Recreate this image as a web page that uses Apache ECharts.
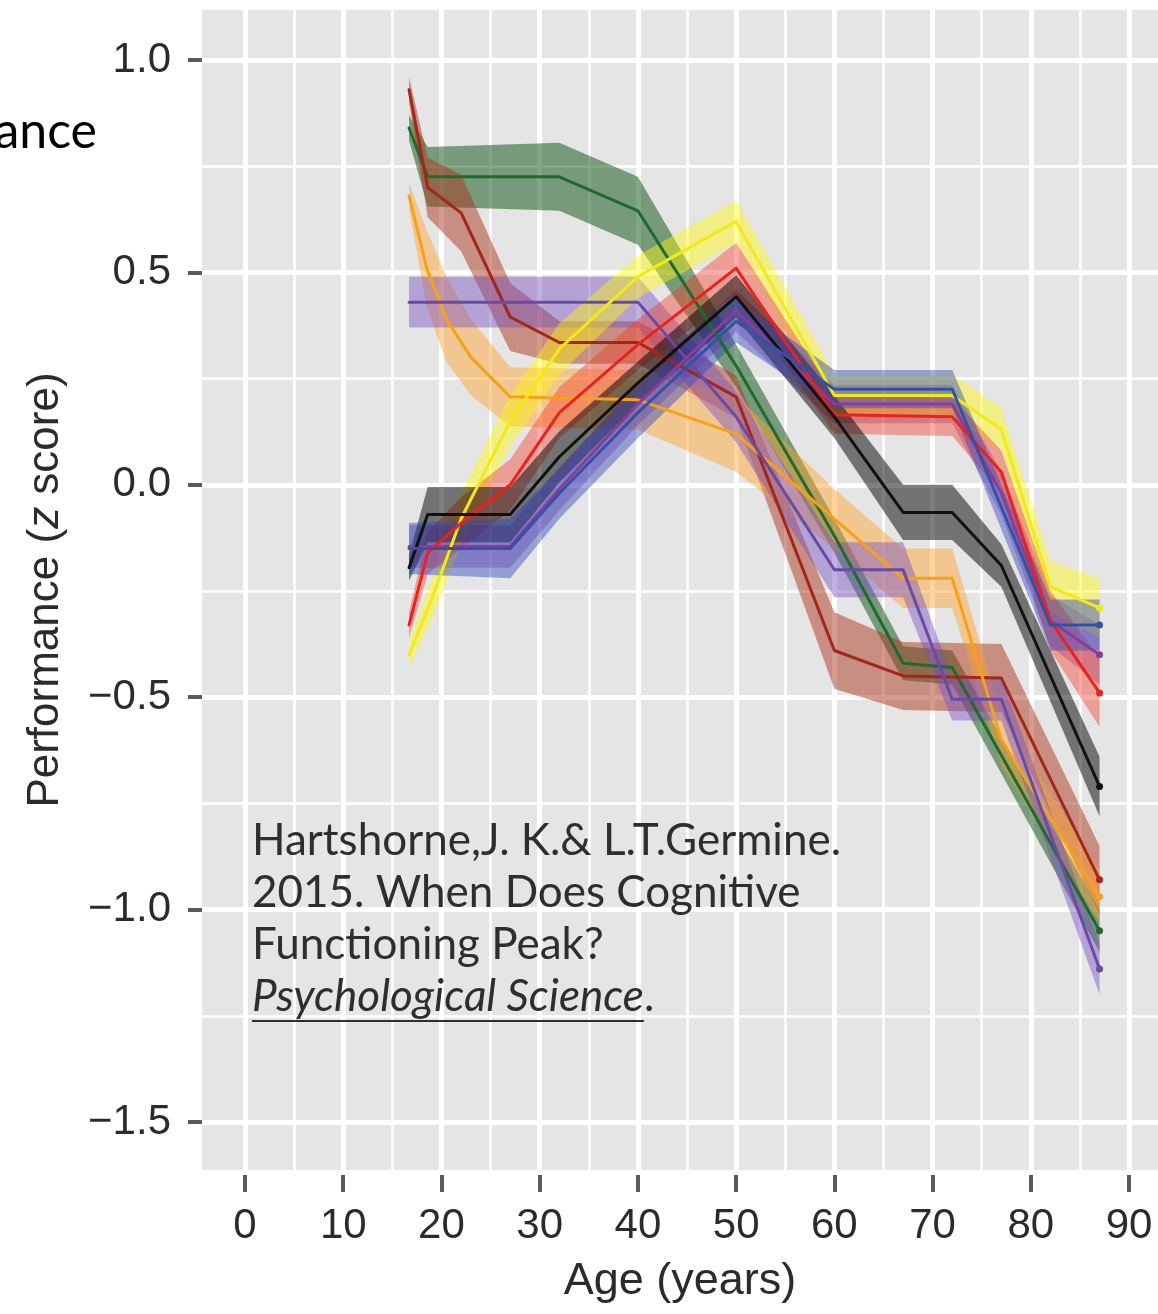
<!DOCTYPE html>
<html>
<head>
<meta charset="utf-8">
<script src="https://cdn.jsdelivr.net/npm/echarts@6/dist/echarts.min.js"></script>
<style>
  html, body { margin: 0; padding: 0; background: #ffffff; }
  #chart { width: 1158px; height: 1314px; }
</style>
</head>
<body>
<div id="chart"></div>
<script>
// Age knots (years), mean performance (z score) and half-width of the
// shaded confidence band for each cognitive measure.
const greenAge  = [16.7, 18.6, 32, 40, 50, 60, 67, 72, 87];
const greenMean = [0.84, 0.725, 0.725, 0.645, 0.28, -0.12, -0.42, -0.43, -1.05];
const greenBand = [0.03, 0.07, 0.08, 0.08, 0.05, 0.04, 0.04, 0.04, 0.05];

const darkRedAge  = [16.7, 18.6, 22, 27, 32, 40, 50, 60, 67, 77, 87];
const darkRedMean = [0.93, 0.70, 0.64, 0.395, 0.335, 0.335, 0.207, -0.39, -0.45, -0.455, -0.93];
const darkRedBand = [0.03, 0.07, 0.09, 0.08, 0.05, 0.05, 0.05, 0.09, 0.08, 0.08, 0.08];

const orangeAge  = [16.7, 18.5, 20.5, 23, 27, 40, 50, 60, 67, 72, 77, 87];
const orangeMean = [0.68, 0.51, 0.39, 0.30, 0.207, 0.20, 0.12, -0.08, -0.22, -0.22, -0.60, -0.97];
const orangeBand = [0.03, 0.09, 0.10, 0.09, 0.07, 0.07, 0.09, 0.07, 0.07, 0.07, 0.06, 0.06];

const violetAge  = [16.7, 40, 50, 60, 67, 72, 77, 87];
const violetMean = [0.43, 0.43, 0.16, -0.20, -0.20, -0.505, -0.505, -1.14];
const violetBand = [0.06, 0.06, 0.06, 0.065, 0.065, 0.05, 0.05, 0.06];

const magentaAge  = [16.7, 27, 32, 40, 50, 60, 72, 77, 82, 87];
const magentaMean = [-0.145, -0.145, -0.01, 0.19, 0.41, 0.19, 0.19, -0.02, -0.32, -0.40];
const magentaBand = [0.05, 0.05, 0.05, 0.05, 0.05, 0.045, 0.045, 0.05, 0.06, 0.07];

const yellowAge  = [16.7, 19, 22, 27, 32, 40, 50, 60, 72, 77, 82, 87];
const yellowMean = [-0.40, -0.27, -0.08, 0.15, 0.32, 0.49, 0.62, 0.21, 0.21, 0.13, -0.24, -0.29];
const yellowBand = [0.03, 0.05, 0.06, 0.06, 0.06, 0.05, 0.05, 0.05, 0.05, 0.05, 0.06, 0.07];

const redAge  = [16.7, 18.6, 22, 27, 32, 40, 50, 60, 72, 77, 82, 87];
const redMean = [-0.33, -0.16, -0.09, 0.0, 0.17, 0.33, 0.51, 0.165, 0.16, 0.03, -0.32, -0.49];
const redBand = [0.03, 0.05, 0.06, 0.06, 0.06, 0.06, 0.06, 0.045, 0.045, 0.05, 0.07, 0.08];

const blackAge  = [16.7, 18.6, 27, 32, 40, 50, 60, 67, 72, 77, 87];
const blackMean = [-0.195, -0.07, -0.07, 0.066, 0.24, 0.443, 0.16, -0.065, -0.065, -0.19, -0.71];
const blackBand = [0.03, 0.065, 0.065, 0.06, 0.05, 0.05, 0.05, 0.065, 0.065, 0.05, 0.07];

const blueAge  = [16.7, 27, 32, 40, 50, 60, 72, 82, 87];
const blueMean = [-0.15, -0.15, -0.02, 0.17, 0.385, 0.225, 0.225, -0.33, -0.33];
const blueBand = [0.06, 0.07, 0.06, 0.06, 0.05, 0.045, 0.045, 0.06, 0.06];

// Axis ticks
const ageTicks = [0, 10, 20, 30, 40, 50, 60, 70, 80, 90];
const ageMinorTicks = [5, 15, 25, 35, 45, 55, 65, 75, 85];
const scoreTicks = [-1.5, -1.0, -0.5, 0.0, 0.5, 1.0];
const scoreMinorTicks = [-1.25, -0.75, -0.25, 0.25, 0.75];

// Citation lines
const citeLines = ['Hartshorne,J. K.& L.T.Germine.', '2015. When Does Cognitive', 'Functioning Peak?'];
const citeJournal = 'Psychological Science';

// Curves in drawing order with their colours
const curves = [
  { age: greenAge,   mean: greenMean,   band: greenBand,   line: '#1f6a2c', fill: 'rgba(30,95,35,0.55)' },
  { age: darkRedAge, mean: darkRedMean, band: darkRedBand, line: '#a3261b', fill: 'rgba(170,55,30,0.5)' },
  { age: orangeAge,  mean: orangeMean,  band: orangeBand,  line: '#f7a11b', fill: 'rgba(255,160,40,0.45)' },
  { age: violetAge,  mean: violetMean,  band: violetBand,  line: '#6a4aa8', fill: 'rgba(120,80,190,0.45)' },
  { age: magentaAge, mean: magentaMean, band: magentaBand, line: '#8a3c98', fill: 'rgba(130,50,150,0.36)' },
  { age: yellowAge,  mean: yellowMean,  band: yellowBand,  line: '#f2ea14', fill: 'rgba(255,250,0,0.42)' },
  { age: redAge,     mean: redMean,     band: redBand,     line: '#e8231c', fill: 'rgba(240,60,40,0.42)' },
  { age: blackAge,   mean: blackMean,   band: blackBand,   line: '#111111', fill: 'rgba(0,0,0,0.5)' },
  { age: blueAge,    mean: blueMean,    band: blueBand,    line: '#3452a4', fill: 'rgba(50,70,190,0.45)' }
];

const axisFont = "'Liberation Sans','Arial',sans-serif";
const noteFont = "Lato,'Open Sans',sans-serif";

function ribbonRenderer(c) {
  return function (params, api) {
    if (params.dataIndex !== 0) return null;
    const upper = c.age.map((a, i) => api.coord([a, c.mean[i] + c.band[i]]));
    const lower = c.age.map((a, i) => api.coord([a, c.mean[i] - c.band[i]])).reverse();
    return {
      type: 'polygon',
      shape: { points: upper.concat(lower) },
      style: { fill: c.fill, stroke: null }
    };
  };
}

const series = [];
curves.forEach(c => {
  series.push({
    type: 'custom',
    xAxisIndex: 0, yAxisIndex: 0,
    silent: true,
    z: 2,
    data: c.age.map((a, i) => [a, c.mean[i] - c.band[i], c.mean[i] + c.band[i]]),
    encode: { x: 0, y: [1, 2] },
    renderItem: ribbonRenderer(c)
  });
});
curves.forEach(c => {
  const last = c.age.length - 1;
  series.push({
    type: 'line',
    xAxisIndex: 0, yAxisIndex: 0,
    silent: true,
    z: 3,
    data: c.age.map((a, i) => [a, c.mean[i]]),
    symbol: (v, p) => (p.dataIndex === last ? 'circle' : 'none'),
    symbolSize: 7,
    showSymbol: true,
    itemStyle: { color: c.line },
    lineStyle: { color: c.line, width: 3, join: 'round', cap: 'round' }
  });
});

// width of the underlined journal title
const measure = document.createElement('canvas').getContext('2d');
measure.font = 'italic 44px ' + noteFont;
const journalWidth = measure.measureText(citeJournal).width;

const chart = echarts.init(document.getElementById('chart'), null, { renderer: 'canvas' });
chart.setOption({
  animation: false,
  backgroundColor: '#ffffff',
  grid: {
    left: 202, top: 10, right: 0, bottom: 144,
    show: true, backgroundColor: '#e5e5e5', borderWidth: 0
  },
  xAxis: [
    {
      type: 'value', gridIndex: 0, position: 'bottom', offset: 5,
      min: -4.38, max: 92.95,
      axisLine: { show: false, onZero: false },
      axisTick: { show: true, length: 17, customValues: ageTicks, lineStyle: { color: '#5a5a5a', width: 4 } },
      axisLabel: {
        show: true, customValues: ageTicks, margin: 30,
        fontSize: 42, fontFamily: axisFont, color: '#2b2b2b'
      },
      splitLine: { show: true, lineStyle: { color: '#ffffff', width: 5 } },
      name: 'Age (years)', nameLocation: 'middle', nameGap: 84,
      nameTextStyle: { fontSize: 45, fontFamily: axisFont, color: '#2b2b2b' }
    },
    {
      type: 'value', gridIndex: 0, position: 'top',
      min: -4.38, max: 92.95,
      axisLine: { show: false, onZero: false },
      axisTick: { show: false, customValues: ageMinorTicks },
      axisLabel: { show: false },
      splitLine: { show: true, lineStyle: { color: '#ffffff', width: 2.5 } }
    }
  ],
  yAxis: [
    {
      type: 'value', gridIndex: 0, position: 'left',
      min: -1.613, max: 1.1177,
      axisLine: { show: false, onZero: false },
      axisTick: { show: true, length: 14, customValues: scoreTicks, lineStyle: { color: '#5a5a5a', width: 4 } },
      axisLabel: {
        show: true, customValues: scoreTicks, margin: 31,
        fontSize: 42, fontFamily: axisFont, color: '#2b2b2b',
        formatter: v => (v < 0 ? '\u2212' : '') + Math.abs(v).toFixed(1)
      },
      splitLine: { show: true, lineStyle: { color: '#ffffff', width: 5 } },
      name: 'Performance ({it|z} score)', nameLocation: 'middle', nameGap: 134, nameRotate: 90,
      nameTextStyle: {
        fontSize: 44, fontFamily: axisFont, color: '#2b2b2b',
        rich: { it: { fontSize: 44, fontFamily: axisFont, fontStyle: 'italic', color: '#2b2b2b' } }
      }
    },
    {
      type: 'value', gridIndex: 0, position: 'right',
      min: -1.613, max: 1.1177,
      axisLine: { show: false, onZero: false },
      axisTick: { show: false, customValues: scoreMinorTicks },
      axisLabel: { show: false },
      splitLine: { show: true, lineStyle: { color: '#ffffff', width: 2.5 } }
    }
  ],
  series: series,
  graphic: [
    {
      type: 'text', x: 97, y: 132, z: 10,
      style: { text: 'Performance', align: 'right', verticalAlign: 'middle', fontSize: 50, fontFamily: noteFont, fill: '#000000' }
    },
    ...citeLines.map((t, i) => ({
      type: 'text', x: 252, y: 841 + i * 52, z: 10,
      style: { text: t, align: 'left', verticalAlign: 'middle', fontSize: 44, fontFamily: noteFont, fill: '#2e2e2e' }
    })),
    {
      type: 'text', x: 252, y: 841 + 3 * 52, z: 10,
      style: {
        text: '{j|' + citeJournal + '}{n|.}', align: 'left', verticalAlign: 'middle',
        fontSize: 44, fontFamily: noteFont, fill: '#2e2e2e',
        rich: {
          j: { fontSize: 44, fontFamily: noteFont, fontStyle: 'italic', fill: '#2e2e2e' },
          n: { fontSize: 44, fontFamily: noteFont, fill: '#2e2e2e' }
        }
      }
    },
    {
      type: 'line', z: 10,
      shape: { x1: 252, y1: 1021, x2: 252 + journalWidth, y2: 1021 },
      style: { stroke: '#2e2e2e', lineWidth: 2 }
    }
  ]
});
</script>
</body>
</html>
